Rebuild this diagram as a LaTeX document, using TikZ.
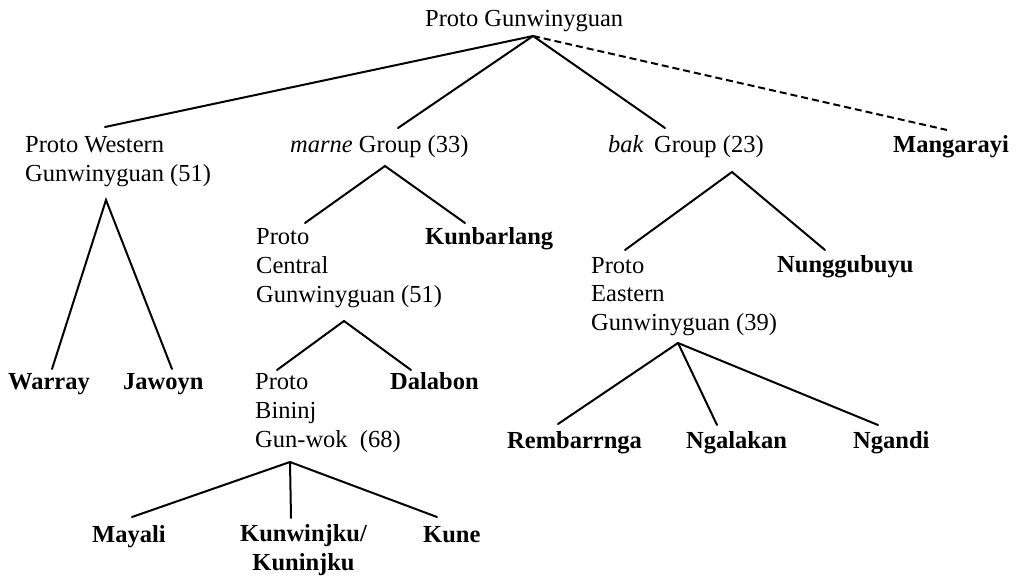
\documentclass[tikz,border=0pt]{standalone}
\usepackage{fontspec}
\setmainfont{Liberation Serif}
\begin{document}
\begin{tikzpicture}[x=1pt,y=-1pt,
  lbl/.style={inner sep=0pt, anchor=base west, align=left, font=\fontsize{24.5}{29}\selectfont},
  lang/.style={lbl, font=\fontsize{24.5}{29}\selectfont\bfseries},
  edge/.style={line width=2pt, line cap=round},
  dashedge/.style={line width=2pt, dash pattern=on 7pt off 4pt}]
\useasboundingbox (0,0) rectangle (1018,577);
% labels (base = baseline of last line)
\node[lbl] (pg) at (425,27) {Proto Gunwinyguan};
\node[lbl] (pwg) at (25,182) {Proto Western\\Gunwinyguan (51)};
\node[lbl] (marne) at (290,153) {\textit{marne} Group (33)};
\node[lbl] (bak) at (608,153) {\textit{bak}\, Group (23)};
\node[lang] (mang) at (893,153) {Mangarayi};
\node[lang] (warray) at (8,390) {Warray};
\node[lang] (jawoyn) at (123,390) {Jawoyn};
\node[lbl] (pcg) at (256,303) {Proto\\Central\\Gunwinyguan (51)};
\node[lang] (kunb) at (425,245) {Kunbarlang};
\node[lbl] (pbg) at (255,447) {Proto\\Bininj\\Gun-wok\ \ (68)};
\node[lang] (dalabon) at (390,390) {Dalabon};
\node[lang] (mayali) at (92,542) {Mayali};
\node[lang, align=center] (kunw) at (240,570) {Kunwinjku/\\Kuninjku};
\node[lang] (kune) at (423,542) {Kune};
\node[lbl] (peg) at (591,331) {Proto\\Eastern\\Gunwinyguan (39)};
\node[lang] (nungg) at (777,273) {Nunggubuyu};
\node[lang] (remb) at (507,448) {Rembarrnga};
\node[lang] (ngal) at (686,448) {Ngalakan};
\node[lang] (ngandi) at (853,448) {Ngandi};
% connector points
\coordinate (pg-a) at (533,36);
\coordinate (pwg-t) at (105,127);
\coordinate (marne-t) at (398,128);
\coordinate (bak-t) at (665,128);
\coordinate (mang-t) at (947,130);
\coordinate (pwg-a) at (106,200);
\coordinate (warray-t) at (52,369);
\coordinate (jawoyn-t) at (172,369);
\coordinate (marne-a) at (385,166);
\coordinate (pcg-t) at (305,223);
\coordinate (kunb-t) at (465,223);
\coordinate (pcg-a) at (344,321);
\coordinate (pbg-t) at (277,370);
\coordinate (dalabon-t) at (411,370);
\coordinate (pbg-a) at (290,462);
\coordinate (mayali-t) at (132,517);
\coordinate (kunw-t) at (291,518);
\coordinate (kune-t) at (437,517);
\coordinate (bak-a) at (732,172);
\coordinate (peg-t) at (625,250);
\coordinate (nungg-t) at (825,250);
\coordinate (peg-a) at (678,343);
\coordinate (remb-t) at (558,424);
\coordinate (ngal-t) at (717,425);
\coordinate (ngandi-t) at (878,425);
% connectors
\draw[edge] (pg-a) -- (pwg-t);
\draw[edge] (pg-a) -- (marne-t);
\draw[edge] (pg-a) -- (bak-t);
\draw[dashedge] (pg-a) -- (mang-t);
\draw[edge] (warray-t) -- (pwg-a) -- (jawoyn-t);
\draw[edge] (pcg-t) -- (marne-a) -- (kunb-t);
\draw[edge] (pbg-t) -- (pcg-a) -- (dalabon-t);
\draw[edge] (pbg-a) -- (mayali-t);
\draw[edge] (pbg-a) -- (kunw-t);
\draw[edge] (pbg-a) -- (kune-t);
\draw[edge] (peg-t) -- (bak-a) -- (nungg-t);
\draw[edge] (peg-a) -- (remb-t);
\draw[edge] (peg-a) -- (ngal-t);
\draw[edge] (peg-a) -- (ngandi-t);
\end{tikzpicture}
\end{document}
